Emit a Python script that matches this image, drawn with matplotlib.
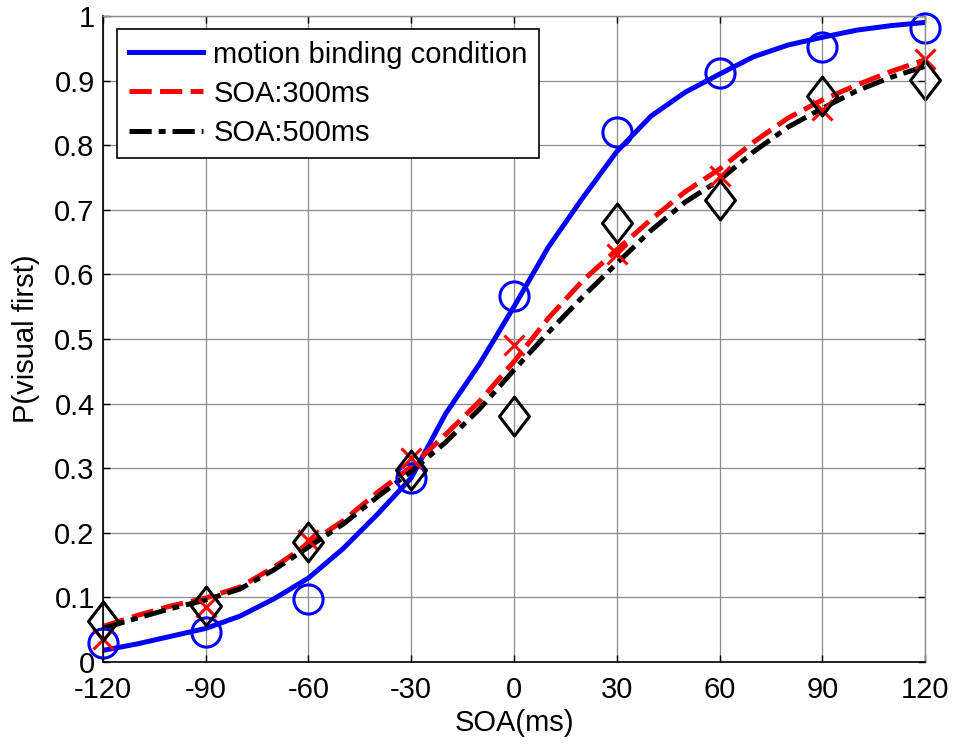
import numpy as np
import matplotlib
matplotlib.use("Agg")
import matplotlib.pyplot as plt
from matplotlib.path import Path

plt.rcParams['font.family'] = ['Liberation Sans', 'DejaVu Sans']
plt.rcParams['lines.scale_dashes'] = False
plt.rcParams['axes.unicode_minus'] = False

# measured proportions at each SOA
soa = [-120, -90, -60, -30, 0, 30, 60, 90, 120]
p_motion = [0.030, 0.047, 0.097, 0.285, 0.567, 0.820, 0.912, 0.952, 0.981]
p_soa300 = [0.036, 0.085, 0.189, 0.316, 0.491, 0.631, 0.752, 0.854, 0.933]
p_soa500 = [0.064, 0.087, 0.186, 0.297, 0.381, 0.680, 0.715, 0.876, 0.901]

# fitted psychometric curves
fit_x = [-120, -110, -100, -90, -80, -70, -60, -50, -40, -30, -20, -10, 0,
         10, 20, 30, 40, 50, 60, 70, 80, 90, 100, 110, 120]
fit_motion = [0.018, 0.028, 0.040, 0.052, 0.071, 0.098, 0.130, 0.175, 0.228,
              0.285, 0.384, 0.462, 0.550, 0.642, 0.718, 0.790, 0.845, 0.882,
              0.910, 0.937, 0.955, 0.967, 0.978, 0.985, 0.990]
fit_soa300 = [0.055, 0.072, 0.087, 0.099, 0.116, 0.147, 0.183, 0.218, 0.262,
              0.302, 0.352, 0.404, 0.465, 0.532, 0.590, 0.638, 0.685, 0.728,
              0.763, 0.805, 0.842, 0.870, 0.893, 0.914, 0.932]
fit_soa500 = [0.052, 0.068, 0.083, 0.096, 0.113, 0.143, 0.178, 0.213, 0.255,
              0.295, 0.340, 0.392, 0.452, 0.510, 0.565, 0.617, 0.668, 0.712,
              0.746, 0.790, 0.828, 0.857, 0.884, 0.905, 0.922]

labels = ['motion binding condition', 'SOA:300ms', 'SOA:500ms']
xticks = [-120, -90, -60, -30, 0, 30, 60, 90, 120]
yticks = [0, 0.1, 0.2, 0.3, 0.4, 0.5, 0.6, 0.7, 0.8, 0.9, 1]
ytick_labels = ['0', '0.1', '0.2', '0.3', '0.4', '0.5', '0.6', '0.7', '0.8', '0.9', '1']

# tall diamond like MATLAB's
diamond = Path([(0, 1), (0.77, 0), (0, -1), (-0.77, 0), (0, 1)],
               [Path.MOVETO, Path.LINETO, Path.LINETO, Path.LINETO, Path.CLOSEPOLY])

fs = 21

fig = plt.figure(figsize=(9.57, 7.46), dpi=100)
ax = fig.add_axes([0.1076, 0.1126, 0.859, 0.866])

ax.plot(fit_x, fit_motion, color='#0000ff', lw=3.6, label=labels[0])
ax.plot(fit_x, fit_soa300, color='#ff0000', lw=3.6, ls=(0, (16, 6)), label=labels[1])
ax.plot(fit_x, fit_soa500, color='black', lw=3.6, ls=(0, (16, 5, 5, 5)), label=labels[2])

ax.plot(soa, p_motion, ls='none', marker='o', ms=21, mfc='none', mec='#0000ff',
        mew=2.2, clip_on=False)
ax.plot(soa, p_soa300, ls='none', marker='x', ms=15, mec='#ff0000', mew=2.2,
        clip_on=False)
ax.plot(soa, p_soa500, ls='none', marker=diamond, ms=28, mfc='none', mec='black',
        mew=2.2, clip_on=False)

ax.set_xlim(-120, 120)
ax.set_ylim(0, 1)
ax.set_xticks(xticks)
ax.set_yticks(yticks)
ax.set_yticklabels(ytick_labels)
ax.grid(True, color='0.55', lw=0.9)
ax.set_axisbelow(True)
ax.tick_params(direction='in', length=5, width=1, top=True, right=True,
               labelsize=fs, color='black')
ax.tick_params(axis='x', pad=10)
ax.tick_params(axis='y', pad=6)
for side in ['left', 'bottom']:
    ax.spines[side].set_color('black')
    ax.spines[side].set_linewidth(1.2)
for side in ['top', 'right']:
    ax.spines[side].set_color('0.55')
    ax.spines[side].set_linewidth(1.0)

ax.set_xlabel('SOA(ms)', fontsize=fs, labelpad=4)
ax.set_ylabel('P(visual first)', fontsize=fs, labelpad=10)

leg = ax.legend(loc='upper left', bbox_to_anchor=(0.017, 0.98), borderaxespad=0,
                fontsize=fs, handlelength=2.55, handletextpad=0.35,
                labelspacing=0.38, borderpad=0.4, fancybox=False,
                framealpha=1, edgecolor='black')
leg.get_frame().set_linewidth(1.2)

fig.savefig('out.png', dpi=100)
